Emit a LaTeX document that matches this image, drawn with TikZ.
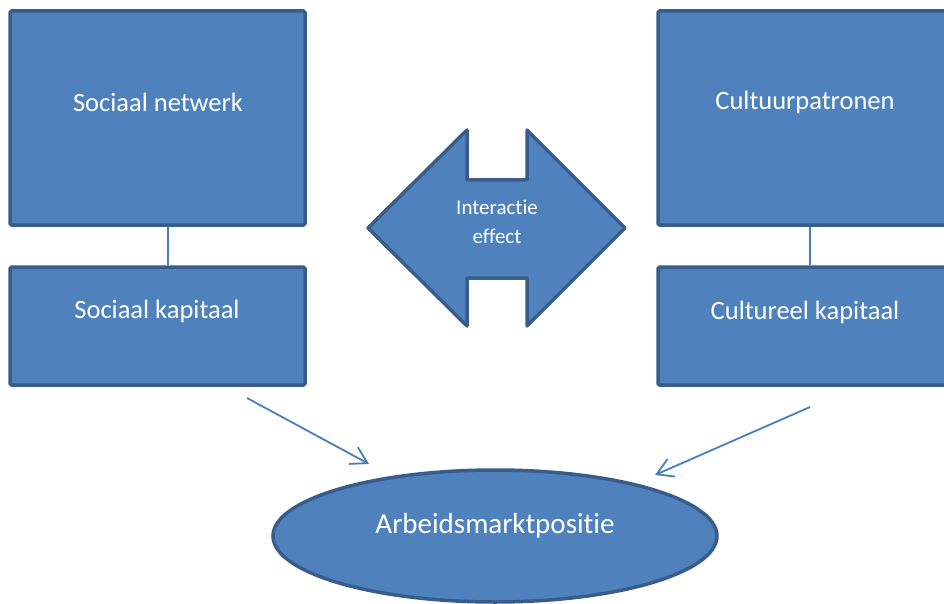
\documentclass[tikz,border=0pt]{standalone}
\usepackage{fontspec}
\setmainfont{Carlito}[Ligatures=NoCommon]
\usetikzlibrary{arrows.meta,shapes.geometric}
\definecolor{fillblue}{HTML}{4F81BD}
\definecolor{edgeblue}{HTML}{385D8A}
\definecolor{lineblue}{HTML}{4A7EBB}
\tikzset{
  boxshape/.style={draw=edgeblue, line width=3.5pt, fill=fillblue, rounded corners=1.5pt, inner sep=0pt},
  boxtext/.style={text=white, font=\fontsize{26.5}{30}\selectfont, inner sep=0pt},
  conn/.style={draw=lineblue, line width=1.5pt},
  leadarrow/.style={draw=lineblue, line width=1.8pt, -{Straight Barb[length=16pt,width=19pt,line width=1.8pt]}}
}
\begin{document}
\begin{tikzpicture}[x=1pt,y=-1pt]
\useasboundingbox (0,0) rectangle (944,604);
\clip (0,0) rectangle (944,604);
% left column
\node[boxshape, minimum width=295pt, minimum height=214pt] (sn) at (157.5,118) {};
\node[boxtext] (snt) at (158,102) {Sociaal netwerk};
\node[boxshape, minimum width=295pt, minimum height=118pt] (sk) at (157.5,326) {};
\node[boxtext] (skt) at (157,311) {Sociaal kapitaal};
\draw[conn] (sn.south -| 168,0) -- (sk.north -| 168,0);
% right column
\node[boxshape, minimum width=310pt, minimum height=214pt] (cp) at (813,118) {};
\node[boxtext] (cpt) at (805,102) {Cultuurpatronen};
\node[boxshape, minimum width=310pt, minimum height=118pt] (ck) at (813,326) {};
\node[boxtext] (ckt) at (805,312) {Cultureel kapitaal};
\draw[conn] (cp.south -| 810,0) -- (ck.north -| 810,0);
% double arrow
\draw[draw=edgeblue, line width=3.5pt, fill=fillblue, line join=round]
  (368,228) -- (467,130) -- (467,180) -- (527,180) -- (527,130) -- (625,228)
  -- (527,326) -- (527,278) -- (467,278) -- (467,326) -- cycle;
\node[text=white, font=\fontsize{21}{29}\selectfont, align=center, inner sep=0pt] (ie) at (497,222) {Interactie\\effect};
% ellipse
\node[ellipse, draw=edgeblue, line width=3.5pt, fill=fillblue, minimum width=444pt, minimum height=132pt, inner sep=0pt] (am) at (495,536) {};
\node[text=white, font=\fontsize{29}{33}\selectfont, inner sep=0pt] (amt) at (495,526) {Arbeidsmarktpositie};
% arrows
\coordinate (a1s) at (247,398);
\coordinate (a1e) at (369,464);
\coordinate (a2s) at (810,407);
\coordinate (a2e) at (655,475);
\draw[leadarrow] (a1s) -- (a1e);
\draw[leadarrow] (a2s) -- (a2e);
\end{tikzpicture}
\end{document}
